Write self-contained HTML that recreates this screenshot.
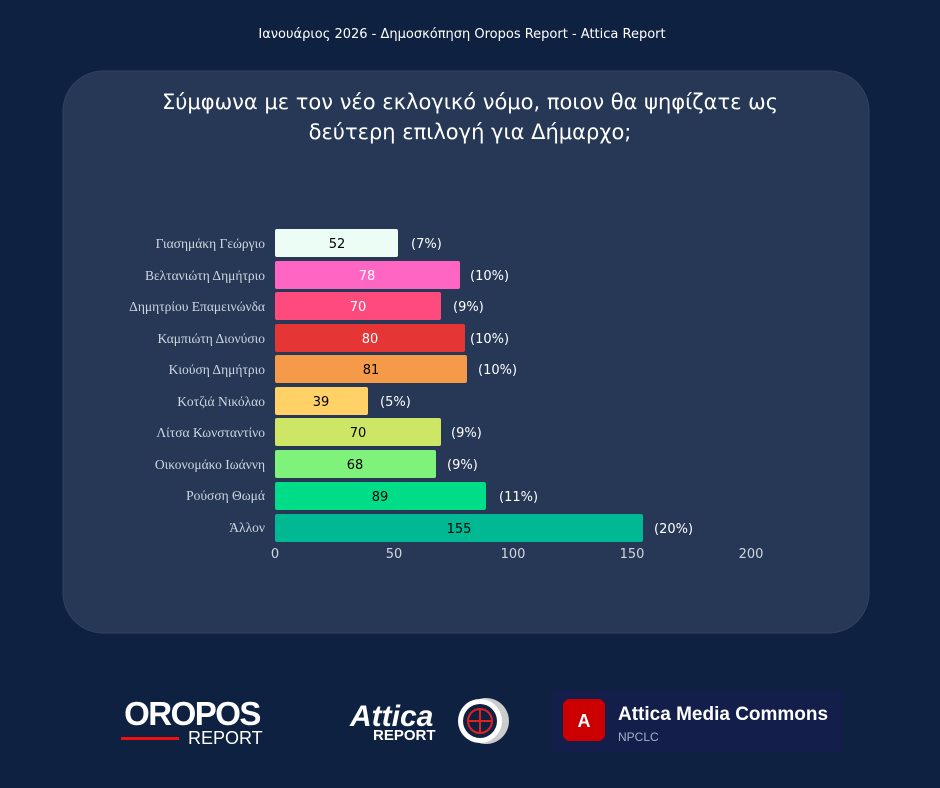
<!DOCTYPE html>
<html><head><meta charset="utf-8"><style>
body{margin:0;width:940px;height:788px;background:#0f2140;overflow:hidden;font-family:"Liberation Sans","DejaVu Sans",sans-serif}
</style></head><body>
<svg width="940" height="788" xmlns="http://www.w3.org/2000/svg" style="position:absolute;left:0;top:0">
<rect width="940" height="788" fill="#0f2140"/>
<text x="462" y="38" fill="#fff" font-size="13" text-anchor="middle" font-family="DejaVu Sans, sans-serif">Ιανουάριος 2026 - Δημοσκόπηση Oropos Report - Attica Report</text>
<rect x="63" y="71" width="806" height="562" rx="40" fill="#263855" stroke="#2f4263"/>
<text x="470" y="109" fill="#fff" font-size="21" text-anchor="middle" font-family="DejaVu Sans, sans-serif">Σύμφωνα με τον νέο εκλογικό νόμο, ποιον θα ψηφίζατε ως</text>
<text x="470" y="139" fill="#fff" font-size="21" text-anchor="middle" font-family="DejaVu Sans, sans-serif">δεύτερη επιλογή για Δήμαρχο;</text>
<g font-family="Liberation Serif, serif" font-size="13.5" fill="#d0d6e0" text-anchor="end">
<text x="265" y="248">Γιασημάκη Γεώργιο</text>
<text x="265" y="280">Βελτανιώτη Δημήτριο</text>
<text x="265" y="311">Δημητρίου Επαμεινώνδα</text>
<text x="265" y="343">Καμπιώτη Διονύσιο</text>
<text x="265" y="374">Κιούση Δημήτριο</text>
<text x="265" y="406">Κοτζιά Νικόλαο</text>
<text x="265" y="437">Λίτσα Κωνσταντίνο</text>
<text x="265" y="469">Οικονομάκο Ιωάννη</text>
<text x="265" y="500">Ρούσση Θωμά</text>
<text x="265" y="532">Άλλον</text>
</g>
<g font-family="DejaVu Sans, sans-serif" font-size="13">
<rect x="275" y="229" width="123" height="28" rx="2" fill="#ecfdf5"/><text x="337" y="248" text-anchor="middle" fill="#000">52</text><text x="411" y="248" fill="#fff">(7%)</text>
<rect x="275" y="261" width="185" height="28" rx="2" fill="#ff66c4"/><text x="367" y="280" text-anchor="middle" fill="#fff">78</text><text x="470" y="280" fill="#fff">(10%)</text>
<rect x="275" y="292" width="166" height="28" rx="2" fill="#ff4a7d"/><text x="358" y="311" text-anchor="middle" fill="#fff">70</text><text x="453" y="311" fill="#fff">(9%)</text>
<rect x="275" y="324" width="190" height="28" rx="2" fill="#e53535"/><text x="370" y="343" text-anchor="middle" fill="#fff">80</text><text x="470" y="343" fill="#fff">(10%)</text>
<rect x="275" y="355" width="192" height="28" rx="2" fill="#f59a48"/><text x="371" y="374" text-anchor="middle" fill="#000">81</text><text x="478" y="374" fill="#fff">(10%)</text>
<rect x="275" y="387" width="93" height="28" rx="2" fill="#ffd166"/><text x="321" y="406" text-anchor="middle" fill="#000">39</text><text x="380" y="406" fill="#fff">(5%)</text>
<rect x="275" y="418" width="166" height="28" rx="2" fill="#cde666"/><text x="358" y="437" text-anchor="middle" fill="#000">70</text><text x="451" y="437" fill="#fff">(9%)</text>
<rect x="275" y="450" width="161" height="28" rx="2" fill="#7ef27a"/><text x="355" y="469" text-anchor="middle" fill="#000">68</text><text x="447" y="469" fill="#fff">(9%)</text>
<rect x="275" y="482" width="211" height="28" rx="2" fill="#00dd88"/><text x="380" y="501" text-anchor="middle" fill="#000">89</text><text x="499" y="501" fill="#fff">(11%)</text>
<rect x="275" y="514" width="368" height="28" rx="2" fill="#00b894"/><text x="459" y="533" text-anchor="middle" fill="#000">155</text><text x="654" y="533" fill="#fff">(20%)</text>
<g fill="#d0d6e0" text-anchor="middle">
<text x="275" y="558">0</text><text x="394" y="558">50</text><text x="513" y="558">100</text><text x="632" y="558">150</text><text x="751" y="558">200</text>
</g>
</g>
<!-- logos -->
<text x="192" y="725" fill="#fff" font-size="33" font-weight="bold" text-anchor="middle" font-family="Liberation Sans, sans-serif" letter-spacing="-1.5">OROPOS</text>
<rect x="121" y="737" width="58" height="3" fill="#e11"/>
<text x="188" y="744" fill="#fff" font-size="18" font-family="Liberation Sans, sans-serif">REPORT</text>
<text x="350" y="726" fill="#fff" font-size="30" font-weight="bold" font-style="italic" font-family="Liberation Sans, sans-serif">Attica</text>
<text x="373" y="740" fill="#fff" font-size="15" font-weight="bold" font-family="Liberation Sans, sans-serif">REPORT</text>
<circle cx="486" cy="721" r="23" fill="#ccc"/>
<circle cx="480" cy="721" r="22" fill="#fff"/>
<circle cx="480" cy="721" r="17" fill="#0f2140"/>
<circle cx="480" cy="721" r="12" fill="none" stroke="#d22" stroke-width="2"/>
<line x1="468" y1="721" x2="492" y2="721" stroke="#d22" stroke-width="2"/>
<line x1="480" y1="709" x2="480" y2="733" stroke="#d22" stroke-width="2"/>
<rect x="552" y="690" width="290" height="62" fill="#131f4a"/>
<rect x="563" y="699" width="42" height="42" rx="7" fill="#cc0000"/>
<text x="584" y="727" fill="#fff" font-size="18" font-weight="bold" text-anchor="middle" font-family="Liberation Sans, sans-serif">A</text>
<text x="618" y="720" fill="#fff" font-size="19" font-weight="bold" font-family="Liberation Sans, sans-serif">Attica Media Commons</text>
<text x="618" y="741" fill="#a8b0c8" font-size="12" font-family="Liberation Sans, sans-serif">NPCLC</text>
</svg>
</body></html>
